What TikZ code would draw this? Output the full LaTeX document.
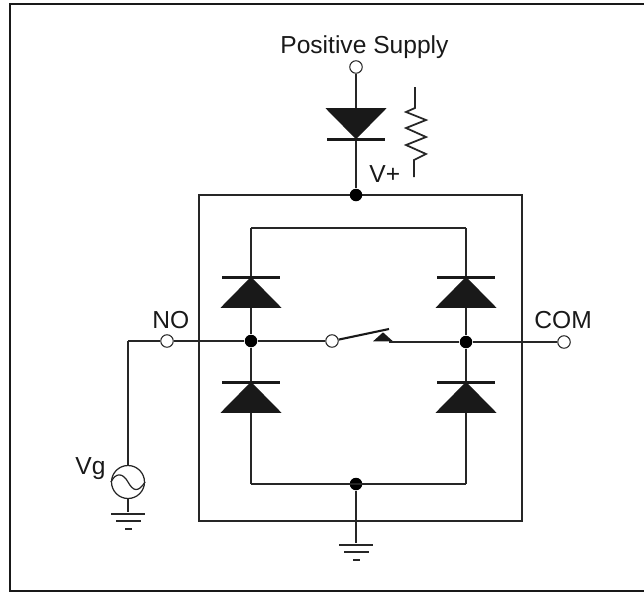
\documentclass[tikz,border=0pt]{standalone}
\usepackage{fontspec}
\setmainfont{Liberation Sans}
\usetikzlibrary{shapes.geometric}

\begin{document}
\begin{tikzpicture}[
    % GLOBAL CFG
    x=0.02cm,
    y=-0.02cm,
    font=\fontsize{14}{16}\selectfont,
    % Styles
    wire/.style={% For all connections
        line width=0.8pt,
        draw=black!85,
        },
    dot/.style={% For junctions
        circle,
        fill=black,
        inner sep=0pt,
        minimum size=0.25cm,
        },
    port/.style={% For open terminals
        circle,
        draw=black!85,
        fill=white,
        line width=0.6pt,
        inner sep=0pt,
        minimum size=0.25cm,
        },
    diode/.style={% For the filled triangles
        isosceles triangle,
        isosceles triangle stretches,
        fill=black!90,
        inner sep=0pt,
        minimum width=1.22cm,
        minimum height=0.62cm,
        },
    bar/.style={% For the diode bars
        rectangle,
        fill=black!90,
        inner sep=0pt,
        minimum width=1.16cm,
        minimum height=0.06cm,
        },
    gbar/.style={% For the ground bars
        rectangle,
        fill=black!85,
        inner sep=0pt,
        minimum height=0.05cm,
        },
    mylabel/.style={% For texts
        inner sep=0pt,
        anchor=base west,
        text=black!90,
        },
    ]

    \useasboundingbox (0,0) rectangle (644,592);

    % Draw the frame and the package
    \draw [line width=0.8pt, black!90] (644,4) -- (10,4) -- (10,591) -- (644,591);
    \draw [wire] (199,195) rectangle (522,521);

    % Draw the junctions
    \coordinate (rail_tl) at (251,228);
    \coordinate (rail_tr) at (466,228);
    \coordinate (rail_bl) at (251,484);
    \coordinate (rail_br) at (466,484);
    \node [dot] (vplus) at (356,195) {};
    \node [dot] (dot_l) at (251,341) {};
    \node [dot] (dot_r) at (466,342) {};
    \node [dot] (dot_b) at (356,484) {};

    % Draw the terminals
    \node [port] (supply) at (356,67) {};
    \node [port] (no) at (167,341) {};
    \node [port] (com) at (564,342) {};
    \node [port] (sw) at (332,341) {};

    % Draw the source and the grounds
    \node [circle, draw=black!85, line width=0.7pt, inner sep=0pt, minimum size=0.66cm] (vg) at (128,482) {};
    \coordinate (corner_vg) at (128,341);
    \node [gbar, minimum width=0.68cm] (gnd_a1) at (128,514) {};
    \node [gbar, minimum width=0.5cm] (gnd_a2) at (128,521) {};
    \node [gbar, minimum width=0.14cm] (gnd_a3) at (128,529) {};
    \node [gbar, minimum width=0.68cm] (gnd_b1) at (356,545) {};
    \node [gbar, minimum width=0.5cm] (gnd_b2) at (356,552) {};
    \node [gbar, minimum width=0.14cm] (gnd_b3) at (356,560) {};

    % Start connecting all.
    \draw [wire] (supply) -- (vplus);
    \draw [wire] (rail_tl) -- (rail_tr);
    \draw [wire] (rail_bl) -- (rail_br);
    \draw [wire] (rail_tl) -- (dot_l) -- (rail_bl);
    \draw [wire] (rail_tr) -- (dot_r) -- (rail_br);
    \draw [wire] (corner_vg) -- (no);
    \draw [wire] (corner_vg) -- (vg);
    \draw [wire] (no) -- (dot_l) -- (sw);
    \draw [wire] (dot_r) -- (com);
    \draw [wire] (vg) -- (gnd_a1);
    \draw [wire] (dot_b) -- (gnd_b1);

    % Draw the diodes
    \node [diode, shape border rotate=270] (d_top) at (356,121) {};
    \node [bar] (bar_top) at (356,139) {};
    \node [diode, shape border rotate=90] (d_tl) at (251,295) {};
    \node [bar] (bar_tl) at (251,277) {};
    \node [diode, shape border rotate=90] (d_tr) at (466,295) {};
    \node [bar] (bar_tr) at (466,277) {};
    \node [diode, shape border rotate=90] (d_bl) at (251,400) {};
    \node [bar] (bar_bl) at (251,382) {};
    \node [diode, shape border rotate=90] (d_br) at (466,400) {};
    \node [bar] (bar_br) at (466,382) {};

    % Draw the switch
    \coordinate (blade) at (389,329);
    \node [diode, minimum width=0.4cm, minimum height=0.18cm, shape border rotate=90] (contact) at (383,337.5) {};
    \draw [line width=1.2pt, black!90] (sw) -- (blade);
    \draw [wire] (contact.east |- dot_r) -- (dot_r);

    % Draw the sine
    \draw [line width=0.7pt, black!85] (vg.west) .. controls (116,472) and (123,473) .. (vg.center) .. controls (133,491) and (138,493) .. (vg.east);

    % Draw the resistor
    \coordinate (res_top) at (415,87);
    \coordinate (res_bot) at (414,177);
    \draw [line width=1pt, black!85] (res_top) -- (415,108) -- (406,112) -- (426,120) -- (406,128) -- (426,137) -- (406,145) -- (426,154) -- (414,160) -- (res_bot);

    % Labels
    \node [mylabel] (lab_supply) at (280,53) {Positive Supply};
    \node [mylabel] (lab_vplus) at (369,182) {V+};
    \node [mylabel] (lab_no) at (152,328) {NO};
    \node [mylabel] (lab_com) at (534,328) {COM};
    \node [mylabel] (lab_vg) at (75,474) {Vg};

\end{tikzpicture}
\end{document}
